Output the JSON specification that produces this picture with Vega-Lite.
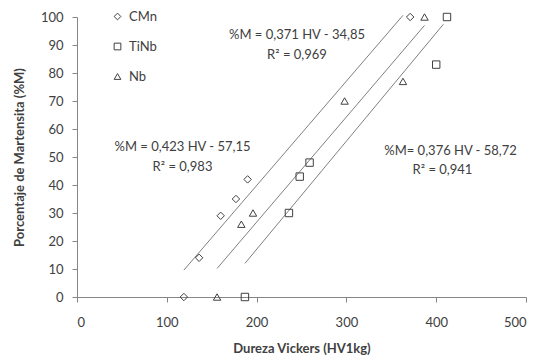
{
  "$schema": "https://vega.github.io/schema/vega-lite/v6.json",
  "autosize": {"type": "none"},
  "padding": {"left": 77, "top": 17, "right": 12, "bottom": 63},
  "width": 449,
  "height": 280,
  "background": "white",
  "config": {
    "font": "Lato",
    "view": {"stroke": null},
    "axis": {
      "grid": false,
      "domainColor": "#868686",
      "tickColor": "#868686",
      "tickSize": 5,
      "labelColor": "#404040",
      "labelFont": "Lato",
      "labelFontSize": 13,
      "labelOverlap": false,
      "titleColor": "#404040",
      "titleFont": "Lato",
      "titleFontSize": 13,
      "titleFontWeight": "bold"
    }
  },
  "datasets": {
    "pts": [
      {"serie": "CMn", "HV": 119, "M": 0},
      {"serie": "CMn", "HV": 136, "M": 14},
      {"serie": "CMn", "HV": 160, "M": 29},
      {"serie": "CMn", "HV": 177, "M": 35},
      {"serie": "CMn", "HV": 190, "M": 42},
      {"serie": "CMn", "HV": 371, "M": 100},
      {"serie": "TiNb", "HV": 187, "M": 0},
      {"serie": "TiNb", "HV": 236, "M": 30},
      {"serie": "TiNb", "HV": 248, "M": 43},
      {"serie": "TiNb", "HV": 259, "M": 48},
      {"serie": "TiNb", "HV": 400, "M": 83},
      {"serie": "TiNb", "HV": 412, "M": 100},
      {"serie": "Nb", "HV": 156, "M": 0},
      {"serie": "Nb", "HV": 183, "M": 26},
      {"serie": "Nb", "HV": 196, "M": 30},
      {"serie": "Nb", "HV": 298, "M": 70},
      {"serie": "Nb", "HV": 363, "M": 77},
      {"serie": "Nb", "HV": 387, "M": 100}
    ],
    "lines": [
      {"linea": "A", "HV": 119, "M": 9.6},
      {"linea": "A", "HV": 363, "M": 100.6},
      {"linea": "B", "HV": 156, "M": 10.2},
      {"linea": "B", "HV": 387, "M": 97},
      {"linea": "C", "HV": 187, "M": 12},
      {"linea": "C", "HV": 408, "M": 97.4}
    ],
    "labels": [
      {"txt": "%M = 0,423 HV - 57,15", "HV": 117.5, "M": 53.6},
      {"txt": "R² = 0,983", "HV": 117.5, "M": 46.4},
      {"txt": "%M = 0,371 HV - 34,85", "HV": 245, "M": 93.6},
      {"txt": "R² = 0,969", "HV": 245, "M": 86.4},
      {"txt": "%M= 0,376 HV - 58,72", "HV": 416, "M": 52.2},
      {"txt": "R² = 0,941", "HV": 407, "M": 45.4}
    ]
  },
  "encoding": {
    "x": {
      "field": "HV", "type": "quantitative",
      "scale": {"domain": [0, 500], "nice": false, "zero": true},
      "axis": {"values": [0, 100, 200, 300, 400, 500], "title": "Dureza Vickers (HV1kg)", "labelPadding": 14, "titlePadding": 13}
    },
    "y": {
      "field": "M", "type": "quantitative",
      "scale": {"domain": [0, 100], "nice": false},
      "axis": {"values": [0, 10, 20, 30, 40, 50, 60, 70, 80, 90, 100], "title": "Porcentaje de Martensita (%M)", "labelPadding": 9, "titlePadding": 14}
    }
  },
  "layer": [
    {
      "data": {"name": "lines"},
      "mark": {"type": "line", "color": "#7f7f7f", "strokeWidth": 1, "clip": false},
      "encoding": {
        "detail": {"field": "linea"}
      }
    },
    {
      "data": {"name": "pts"},
      "mark": {"type": "point", "filled": false, "stroke": "#404040", "strokeWidth": 1, "opacity": 1, "size": 55, "clip": false},
      "encoding": {
        "shape": {
          "field": "serie", "type": "nominal",
          "scale": {"domain": ["CMn", "TiNb", "Nb"], "range": ["diamond", "square", "triangle-up"]},
          "legend": {
            "title": null,
            "orient": "none",
            "legendX": 34,
            "legendY": -7,
            "labelFontSize": 13,
            "labelFont": "Lato",
            "labelColor": "#404040",
            "symbolSize": 45,
            "symbolStrokeColor": "#404040",
            "symbolFillColor": "transparent",
            "symbolStrokeWidth": 1,
            "rowPadding": 16,
            "labelOffset": 5
          }
        }
      }
    },
    {
      "data": {"name": "labels"},
      "mark": {"type": "text", "font": "Lato", "fontSize": 13, "color": "#404040", "align": "center", "baseline": "middle"},
      "encoding": {
        "text": {"field": "txt"}
      }
    }
  ]
}
